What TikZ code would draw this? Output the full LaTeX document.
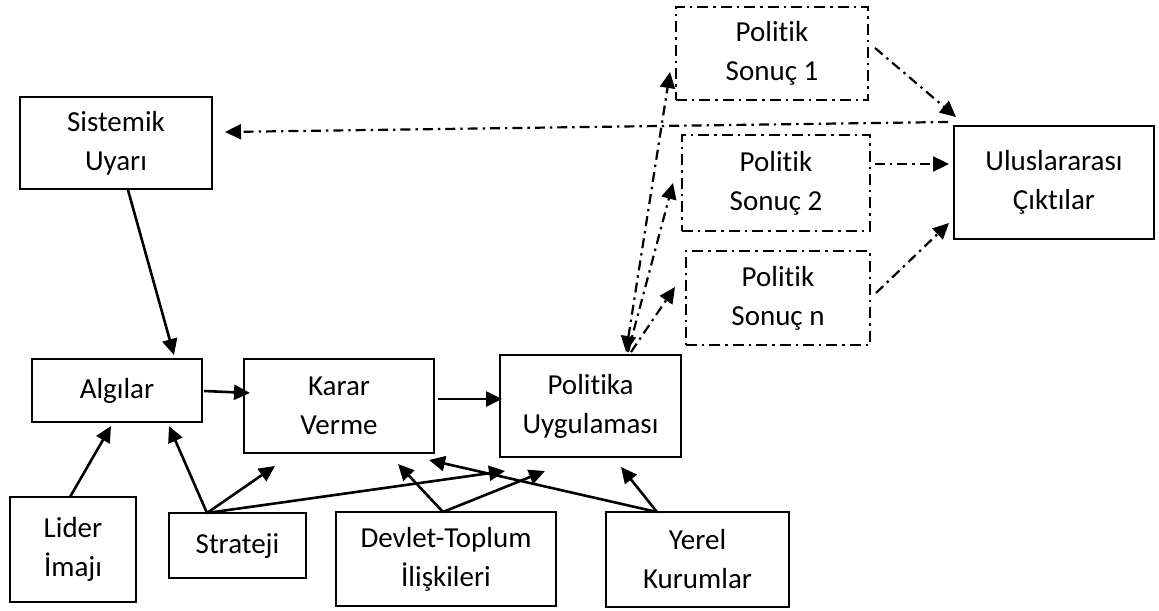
\documentclass[tikz,border=0pt]{standalone}
\usepackage{fontspec}
\setmainfont{Carlito}[Ligatures={NoCommon}]
\usetikzlibrary{arrows.meta,calc}
\begin{document}
\begin{tikzpicture}[x=0.5pt,y=-0.5pt,
  font=\fontsize{14.5}{19.5}\selectfont,
  tip/.tip={Triangle[length=8pt,width=7.5pt]},
  box/.style={draw,line width=1.3pt,inner sep=0pt,outer sep=0pt,align=center},
  dbox/.style={draw,line width=1.1pt,inner sep=0pt,outer sep=0pt,align=center,
    dash pattern=on 5.5pt off 2.5pt on 1.2pt off 2.5pt},
  arr/.style={line width=1.3pt,-tip},
  darr/.style={line width=1.1pt,-tip,
    dash pattern=on 5pt off 2.5pt on 1.2pt off 2.5pt}]
\useasboundingbox (0,0) rectangle (1159,610);
% nodes
\node[box,minimum width=96pt,minimum height=46pt] (sis) at (116,143) {Sistemik\\Uyarı};
\node[box,minimum width=85pt,minimum height=31.5pt] (alg) at (117,390.5) {Algılar};
\node[box,minimum width=95pt,minimum height=47pt] (kar) at (339,406) {Karar\\Verme};
\node[box,minimum width=90.5pt,minimum height=51pt] (pol) at (590.5,406) {Politika\\Uygulaması};
\node[box,minimum width=63pt,minimum height=52.5pt] (lid) at (73,549.5) {Lider\\İmajı};
\node[box,minimum width=68.5pt,minimum height=32.5pt] (str) at (237.5,545.5) {Strateji};
\node[box,minimum width=110pt,minimum height=47pt] (dev) at (446,559) {Devlet-Toplum\\İlişkileri};
\node[box,minimum width=91.5pt,minimum height=47.5pt] (yer) at (697.5,559.5) {Yerel\\Kurumlar};
\node[dbox,minimum width=96pt,minimum height=46.5pt] (s1) at (772,53.5) {Politik\\Sonuç 1};
\node[dbox,minimum width=94pt,minimum height=48pt] (s2) at (776,183) {Politik\\Sonuç 2};
\node[dbox,minimum width=92pt,minimum height=47pt] (sn) at (778,298) {Politik\\Sonuç n};
\node[box,minimum width=100pt,minimum height=56.5pt] (ulu) at (1054,182.5) {Uluslararası\\Çıktılar};
% solid connectors
\draw[arr] ($(sis.south west)+(108,1)$) -- ($(alg.north west)+(142,-4)$);
\draw[arr] ($(alg.east)+(2,0.5)$) -- ($(kar.west)+(6,-13)$);
\draw[arr] ($(kar.east)+(4,-7)$) -- ($(pol.west)+(2,-7)$);
\draw[arr] ($(lid.north)+(-3,0)$) -- ($(alg.south west)+(79,4)$);
\draw[arr] ($(str.north west)+(38,0)$) -- ($(alg.south west)+(137,4)$);
\draw[arr] ($(str.north west)+(38,0)$) -- ($(kar.south west)+(31,13)$);
\draw[arr] ($(str.north west)+(38,0)$) -- ($(pol.south west)+(5,14)$);
\draw[arr] ($(dev.north west)+(107,0)$) -- ($(kar.south west)+(154,11)$);
\draw[arr] ($(dev.north west)+(107,0)$) -- ($(pol.south west)+(45,14)$);
\draw[arr] ($(yer.north west)+(51,0)$) -- ($(kar.south west)+(185,7)$);
\draw[arr] ($(yer.north west)+(51,0)$) -- ($(pol.south west)+(121,10)$);
% dash-dot connectors
\draw[darr,tip-tip] ($(pol.north west)+(126,-3)$) -- ($(s1.west)+(-6,18.5)$);
\draw[darr] ($(pol.north west)+(128,-3)$) -- ($(s2.west)+(-9,0)$);
\draw[darr] ($(pol.north west)+(131,-3)$) -- ($(sn.west)+(-11,-11)$);
\draw[darr] ($(s1.east)+(7,-5.5)$) -- ($(ulu.north west)+(2,-9)$);
\draw[darr] ($(s2.east)+(5,-19)$) -- ($(ulu.west)+(-5,-18.5)$);
\draw[darr] ($(sn.east)+(6,-5)$) -- ($(ulu.west)+(-5,40.5)$);
\draw[darr] ($(ulu.north west)+(-6,-4)$) -- ($(sis.east)+(13,-11)$);
\end{tikzpicture}
\end{document}
